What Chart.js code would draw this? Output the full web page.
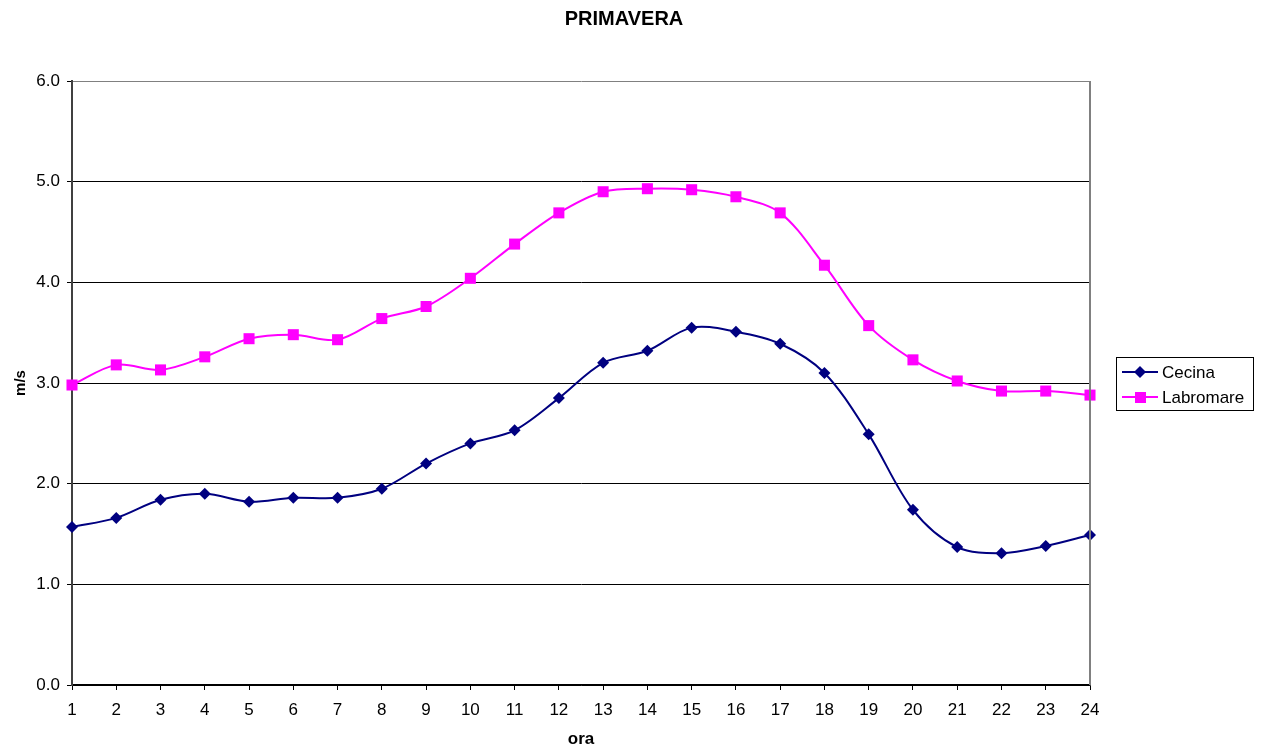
<!DOCTYPE html>
<html>
<head>
<meta charset="utf-8">
<script src="https://cdn.jsdelivr.net/npm/chart.js@4"></script>
<style>
html,body{margin:0;padding:0;background:#fff;}
#wrap{width:1263px;height:752px;position:relative;}
</style>
</head>
<body>
<div id="wrap"><canvas id="c" width="1263" height="752"></canvas></div>
<script>
const categories = ['1','2','3','4','5','6','7','8','9','10','11','12','13','14','15','16','17','18','19','20','21','22','23','24'];
const cecina = [1.57,1.66,1.84,1.90,1.82,1.86,1.86,1.95,2.20,2.40,2.53,2.85,3.20,3.32,3.55,3.51,3.39,3.10,2.49,1.74,1.37,1.31,1.38,1.49];
const labromare = [2.98,3.18,3.13,3.26,3.44,3.48,3.43,3.64,3.76,4.04,4.38,4.69,4.90,4.93,4.92,4.85,4.69,4.17,3.57,3.23,3.02,2.92,2.92,2.88];
const seriesNames = ['Cecina','Labromare'];
const chartTitle = 'PRIMAVERA';
const xTitle = 'ora';
const yTitle = 'm/s';

const FONT = '"Liberation Sans", Arial, sans-serif';
const NAVY = '#000080';
const MAGENTA = '#FF00FF';

const decor = {
  id: 'decor',
  afterDraw(chart) {
    const ctx = chart.ctx;
    const a = chart.chartArea;
    ctx.save();
    ctx.strokeStyle = '#808080';
    ctx.lineWidth = 2;
    ctx.beginPath();
    ctx.moveTo(a.right, a.top);
    ctx.lineTo(a.right, a.bottom);
    ctx.stroke();
    ctx.fillStyle = '#000';
    ctx.font = 'bold 20px ' + FONT;
    ctx.textAlign = 'center';
    ctx.textBaseline = 'middle';
    ctx.fillText(chartTitle, 624, 19);
    ctx.lineWidth = 1;
    ctx.strokeStyle = '#000';
    ctx.strokeRect(1116.5, 357.5, 137, 53);
    const items = [
      {name: seriesNames[0], color: NAVY, y: 372, shape: 'diamond'},
      {name: seriesNames[1], color: MAGENTA, y: 397, shape: 'square'}
    ];
    items.forEach(it => {
      ctx.strokeStyle = it.color;
      ctx.lineWidth = 2;
      ctx.beginPath();
      ctx.moveTo(1122, it.y);
      ctx.lineTo(1158, it.y);
      ctx.stroke();
      ctx.fillStyle = it.color;
      ctx.beginPath();
      if (it.shape === 'diamond') {
        ctx.moveTo(1140, it.y - 6);
        ctx.lineTo(1146, it.y);
        ctx.lineTo(1140, it.y + 6);
        ctx.lineTo(1134, it.y);
        ctx.closePath();
        ctx.fill();
      } else {
        ctx.fillRect(1135, it.y - 5, 11, 11);
      }
      ctx.fillStyle = '#000';
      ctx.font = '17px ' + FONT;
      ctx.textAlign = 'left';
      ctx.textBaseline = 'middle';
      ctx.fillText(it.name, 1162, it.y + 1);
    });
    ctx.restore();
  }
};

new Chart(document.getElementById('c'), {
  type: 'line',
  data: {
    labels: categories,
    datasets: [
      {
        label: seriesNames[0],
        data: cecina,
        borderColor: NAVY,
        backgroundColor: NAVY,
        borderWidth: 2,
        pointStyle: 'rectRot',
        pointRadius: 6,
        pointHoverRadius: 6,
        pointBorderWidth: 0,
        tension: 0.33,
        clip: false
      },
      {
        label: seriesNames[1],
        data: labromare,
        borderColor: MAGENTA,
        backgroundColor: MAGENTA,
        borderWidth: 2,
        pointStyle: 'rect',
        pointRadius: 7.8,
        pointHoverRadius: 7.8,
        pointBorderWidth: 0,
        tension: 0.33,
        clip: false
      }
    ]
  },
  options: {
    responsive: false,
    animation: false,
    events: [],
    layout: { padding: { top: 81, right: 173, left: 0, bottom: 0 } },
    plugins: {
      legend: { display: false },
      title: { display: false },
      tooltip: { enabled: false }
    },
    scales: {
      x: {
        type: 'category',
        offset: false,
        afterFit(s) { s.height = 67; },
        grid: {
          display: true,
          drawOnChartArea: false,
          drawTicks: true,
          tickLength: 5,
          tickColor: '#000',
          offset: false
        },
        border: { display: true, color: '#000', width: 1.5 },
        ticks: {
          color: '#000',
          font: { family: FONT, size: 17 },
          padding: 10,
          maxRotation: 0,
          autoSkip: false
        },
        title: {
          display: true,
          text: xTitle,
          color: '#000',
          font: { family: FONT, size: 17, weight: 'bold' },
          padding: { top: 0, bottom: 2 }
        }
      },
      y: {
        min: 0,
        max: 6,
        afterFit(s) { s.width = 72; },
        grid: {
          color: (c) => (c.tick && c.tick.value === 6) ? '#808080' : '#000',
          lineWidth: 1,
          drawTicks: true,
          tickLength: 5,
          tickColor: '#000'
        },
        border: { display: true, color: '#404040', width: 2 },
        ticks: {
          stepSize: 1,
          color: '#000',
          font: { family: FONT, size: 17 },
          padding: 7,
          callback: (v) => Number(v).toFixed(1)
        },
        title: {
          display: true,
          text: yTitle,
          color: '#000',
          font: { family: FONT, size: 15, weight: 'bold' },
          padding: { top: 12, bottom: 0 }
        }
      }
    }
  },
  plugins: [decor]
});
</script>
</body>
</html>
